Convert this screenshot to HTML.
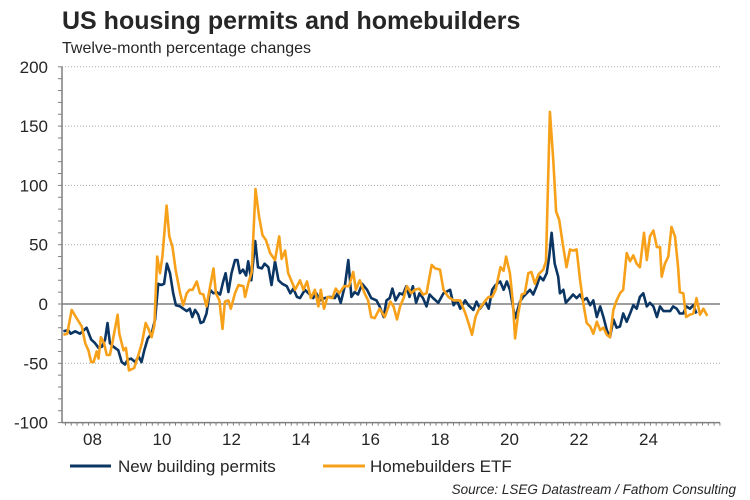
<!DOCTYPE html>
<html><head><meta charset="utf-8">
<style>
html,body{margin:0;padding:0;background:#fff;}
body{width:750px;height:500px;overflow:hidden;font-family:"Liberation Sans",Arial,sans-serif;}
svg{display:block}
</style></head>
<body>
<svg id="chart" width="750" height="500" viewBox="0 0 750 500" xmlns="http://www.w3.org/2000/svg">
<text x="62" y="29" font-family="Liberation Sans, Arial, sans-serif" font-weight="bold" font-size="25" fill="#262626">US housing permits and homebuilders</text>
<text x="62" y="53" font-family="Liberation Sans, Arial, sans-serif" font-size="16" fill="#262626">Twelve-month percentage changes</text>
<g id="grid"></g>
<g id="axes"></g>
<g id="series"></g>
<g>
<line x1="70" y1="466" x2="111" y2="466" stroke="#0b3563" stroke-width="3"/>
<text x="118" y="472" font-size="17" fill="#262626">New building permits</text>
<line x1="323" y1="466" x2="365" y2="466" stroke="#f7a11a" stroke-width="3"/>
<text x="370" y="472" font-size="17" fill="#262626">Homebuilders ETF</text>
</g>
<text x="736" y="494" text-anchor="end" font-size="13.5" font-style="italic" fill="#262626">Source: LSEG Datastream / Fathom Consulting</text>
</svg>
<script>
const yTicks = [200,150,100,50,0,-50,-100];
const xYears = [2008,2010,2012,2014,2016,2018,2020,2022,2024];
const xLabels = ["08","10","12","14","16","18","20","22","24"];

const etfDates = [2007.19,2007.3,2007.43,2007.55,2007.72,2007.82,2007.91,2007.99,2008.06,2008.15,2008.2,2008.27,2008.36,2008.44,2008.53,2008.63,2008.75,2008.8,2008.92,2008.99,2009.08,2009.23,2009.35,2009.45,2009.56,2009.64,2009.73,2009.81,2009.89,2009.97,2010.04,2010.16,2010.24,2010.33,2010.42,2010.55,2010.64,2010.74,2010.82,2010.91,2011.03,2011.12,2011.22,2011.31,2011.39,2011.51,2011.58,2011.68,2011.77,2011.84,2011.94,2012.01,2012.13,2012.23,2012.37,2012.42,2012.51,2012.61,2012.72,2012.82,2012.92,2013.02,2013.14,2013.28,2013.40,2013.47,2013.57,2013.66,2013.76,2013.86,2014.0,2014.1,2014.2,2014.31,2014.43,2014.53,2014.6,2014.69,2014.79,2014.93,2015.03,2015.13,2015.27,2015.41,2015.53,2015.61,2015.72,2015.86,2015.96,2016.05,2016.15,2016.29,2016.44,2016.60,2016.69,2016.79,2016.88,2016.98,2017.08,2017.20,2017.30,2017.43,2017.54,2017.64,2017.79,2017.89,2018.03,2018.13,2018.27,2018.42,2018.61,2018.76,2018.85,2018.95,2019.05,2019.14,2019.24,2019.34,2019.43,2019.53,2019.63,2019.77,2019.86,2019.93,2020.04,2020.12,2020.19,2020.28,2020.38,2020.47,2020.57,2020.66,2020.76,2020.86,2021.00,2021.08,2021.19,2021.29,2021.37,2021.46,2021.56,2021.67,2021.77,2021.86,2021.96,2022.06,2022.15,2022.25,2022.35,2022.44,2022.54,2022.64,2022.73,2022.83,2022.92,2023.02,2023.11,2023.21,2023.30,2023.40,2023.50,2023.59,2023.69,2023.78,2023.90,2023.98,2024.07,2024.17,2024.27,2024.36,2024.41,2024.50,2024.60,2024.69,2024.79,2024.88,2024.93,2025.03,2025.11,2025.22,2025.32,2025.41,2025.51,2025.61,2025.72];
const etfValues = [-26,-25,-5,-11,-19,-33,-39,-49,-49,-40,-46,-28,-33,-43,-43,-28,-9,-25,-39,-37,-56,-54,-43,-33,-16,-21,-28,-18,40,26,40,83,57,48,29,9,-1,9,12,12,19,9,8,-2,11,30,9,3,-21,2,3,-4,9,16,15,6,17,27,97,74,58,54,43,37,57,38,45,26,19,12,20,12,19,5,12,-2,12,-4,6,5,13,9,15,15,27,12,20,9,3,-11,-12,-4,-11,2,-2,-13,-2,5,15,9,12,13,8,9,33,30,29,12,6,3,3,-8,-16,-26,-11,-5,-1,3,6,6,12,31,28,40,26,3,-29,-8,8,9,26,27,17,25,29,36,162,121,78,71,51,31,46,45,46,20,1,-16,-19,-25,-15,-22,-20,-26,-28,-5,3,9,12,43,36,41,34,31,60,37,57,62,48,48,23,34,40,65,57,31,10,9,-11,-9,-8,5,-9,-4,-10];

const permitDates = [2007.19,2007.33,2007.4,2007.53,2007.67,2007.86,2007.99,2008.1,2008.20,2008.3,2008.39,2008.46,2008.53,2008.63,2008.77,2008.87,2008.96,2009.04,2009.14,2009.26,2009.35,2009.44,2009.52,2009.62,2009.73,2009.83,2009.92,2010.01,2010.09,2010.17,2010.26,2010.35,2010.43,2010.55,2010.64,2010.74,2010.83,2010.90,2010.98,2011.07,2011.14,2011.22,2011.31,2011.41,2011.51,2011.6,2011.70,2011.79,2011.86,2011.94,2012.03,2012.13,2012.2,2012.27,2012.36,2012.45,2012.51,2012.6,2012.71,2012.79,2012.90,2012.98,2013.09,2013.18,2013.28,2013.38,2013.49,2013.62,2013.72,2013.81,2013.91,2014.0,2014.14,2014.28,2014.38,2014.47,2014.57,2014.71,2014.86,2015.0,2015.08,2015.17,2015.29,2015.39,2015.48,2015.57,2015.67,2015.79,2015.93,2016.05,2016.20,2016.29,2016.41,2016.49,2016.58,2016.66,2016.75,2016.87,2016.96,2017.06,2017.15,2017.25,2017.34,2017.44,2017.54,2017.64,2017.73,2017.83,2017.98,2018.13,2018.32,2018.42,2018.52,2018.61,2018.75,2018.85,2018.99,2019.08,2019.18,2019.33,2019.43,2019.53,2019.63,2019.76,2019.86,2019.95,2020.04,2020.19,2020.33,2020.42,2020.52,2020.62,2020.71,2020.81,2020.90,2021.00,2021.10,2021.17,2021.24,2021.33,2021.43,2021.48,2021.58,2021.65,2021.77,2021.86,2021.96,2022.06,2022.15,2022.25,2022.35,2022.44,2022.54,2022.64,2022.73,2022.83,2022.92,2023.02,2023.11,2023.21,2023.30,2023.40,2023.50,2023.59,2023.69,2023.78,2023.88,2023.98,2024.07,2024.17,2024.27,2024.36,2024.46,2024.65,2024.74,2024.84,2024.93,2025.03,2025.12,2025.22,2025.32,2025.41];
const permitValues = [-23,-22,-25,-23,-25,-20,-30,-33,-37,-36,-30,-16,-33,-36,-39,-49,-51,-47,-46,-49,-44,-49,-39,-29,-25,-13,17,16,17,34,26,9,-1,-2,-4,-6,-4,-11,-5,-9,-16,-15,-8,12,9,10,8,19,26,10,26,37,37,26,29,24,36,20,53,31,30,34,31,16,36,20,17,15,9,13,6,5,12,8,5,9,3,5,6,5,9,1,15,37,6,10,8,17,12,5,3,-2,-11,3,5,13,3,9,8,15,6,15,1,9,5,-2,8,5,1,9,12,-1,3,-4,3,-1,-5,2,-4,2,-4,12,16,19,12,19,12,-12,2,6,9,12,8,15,23,20,26,40,60,34,23,9,12,1,5,8,5,8,3,5,-1,3,-11,-2,-11,-22,-28,-13,-20,-19,-8,-15,-8,-1,-4,6,9,-2,1,-2,-11,-2,-6,-6,-2,-4,-8,-8,-2,-4,-1,-8];

const NS = "http://www.w3.org/2000/svg";
const X0 = 62, X1 = 720, Y_TOP = 66.8, Y_BOT = 422.6;
const YMIN = -100, YMAX = 200;
const xPx = yr => 91.5 + (yr - 2008) * 34.75;
const yPx = v => Y_BOT - (v - YMIN) / (YMAX - YMIN) * (Y_BOT - Y_TOP);
function mk(tag, attrs, parent){const e=document.createElementNS(NS,tag);for(const k in attrs)e.setAttribute(k,attrs[k]);parent.appendChild(e);return e;}

const grid = document.getElementById('grid');
const axes = document.getElementById('axes');
const series = document.getElementById('series');

yTicks.forEach(v => {
  const y = yPx(v);
  if (v !== YMIN && v !== 0) {
    const g = mk('line',{x1:X0,x2:X1,y1:y,y2:y,stroke:'#a6a6a6','stroke-width':1,'stroke-dasharray':'1 2'},grid);
    
    
  }
  const t = mk('text',{x:48,y:y+6,'text-anchor':'end','font-size':17,fill:'#262626'},axes);
  t.textContent = v;
  
  
});
for (let v = YMIN; v <= YMAX; v += 10) {
  const y = yPx(v);
  const tk = mk('line',{x1:X0-4,x2:X0,y1:y,y2:y,stroke:'#7f7f7f','stroke-width':1},axes);
  
  
}
const ya = mk('line',{x1:X0,x2:X0,y1:Y_TOP,y2:Y_BOT,stroke:'#7f7f7f','stroke-width':1.5},axes);


const xa = mk('line',{x1:X0,x2:X1,y1:Y_BOT,y2:Y_BOT,stroke:'#7f7f7f','stroke-width':1.5},axes);


for (let m = 2007*12+3; ; m += 2) {
  const x = xPx(m/12);
  if (x > X1) break;
  const major = (m % 24 === 0);
  const tk = mk('line',{x1:x,x2:x,y1:Y_BOT,y2:Y_BOT+(major?5:3),stroke:'#7f7f7f','stroke-width':1},axes);
  
  
}
xYears.forEach((yr,i) => {
  const t = mk('text',{x:xPx(yr)+1,y:445,'text-anchor':'middle','font-size':17,fill:'#262626'},axes);
  t.textContent = xLabels[i];
  
  
});
const zl = mk('line',{x1:X0,x2:X1,y1:yPx(0),y2:yPx(0),stroke:'#7f7f7f','stroke-width':1.5},axes);



function drawLine(dates, vals, color, name){
  const d = dates.map((t,i)=>(i?'L':'M')+xPx(t).toFixed(1)+' '+yPx(vals[i]).toFixed(1)).join(' ');
  const p = mk('path',{d:d,fill:'none',stroke:color,'stroke-width':2.6,'stroke-linejoin':'round'},series);
  
  
}
drawLine(permitDates, permitValues, '#0b3563', 'permits-line');
drawLine(etfDates, etfValues, '#f7a11a', 'etf-line');
</script>
</body></html>
